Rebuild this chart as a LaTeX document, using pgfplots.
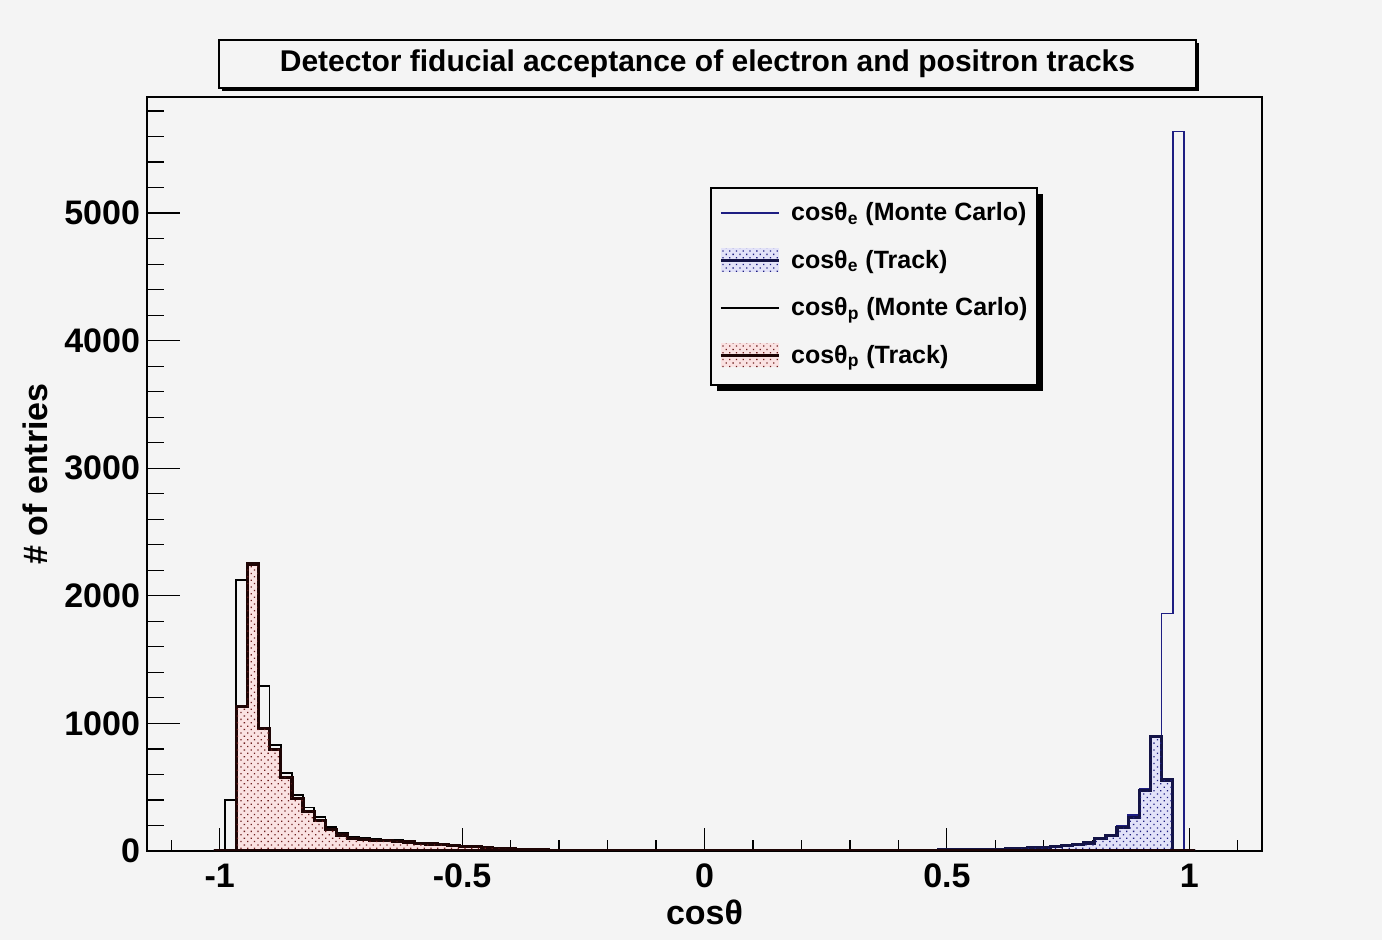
\documentclass[border=0pt]{standalone}
\usepackage{pgfplots}
\pgfplotsset{compat=1.18}
\usepackage{pgfplotstable}
\usepackage{fontspec}
\setmainfont{Liberation Sans}
\usetikzlibrary{patterns.meta}

\definecolor{bgc}{RGB}{244,244,244}
\definecolor{enavy}{RGB}{30,30,130}
\definecolor{eline}{RGB}{20,20,70}
\definecolor{efill}{RGB}{226,226,248}
\definecolor{pfill}{RGB}{250,226,226}
\definecolor{pdot}{RGB}{110,30,30}
\definecolor{pline}{RGB}{30,5,5}

% bins of width 0.023, x = left edge of the bin
\pgfplotstableread{
x      mce  tre  mcp  trp
-1.012 0    0    0    0
-0.989 0    0    400  0
-0.966 0    0    2125 1130
-0.943 0    0    2258 2250
-0.920 0    0    1295 962
-0.897 0    0    830  798
-0.874 0    0    610  578
-0.851 0    0    440  413
-0.828 0    0    340  310
-0.805 0    0    265  240
-0.782 0    0    190  170
-0.759 0    0    140  125
-0.736 0    0    110  95
-0.713 0    0    100  88
-0.690 0    0    95   84
-0.667 0    0    90   80
-0.644 0    0    86   76
-0.621 0    0    80   70
-0.598 0    0    66   60
-0.575 0    0    60   55
-0.552 0    0    55   50
-0.529 0    0    44   40
-0.506 0    0    40   37
-0.483 0    0    38   34
-0.460 0    0    35   30
-0.437 0    0    22   20
-0.414 0    0    20   17
-0.391 0    0    15   12
-0.368 0    0    12   10
-0.345 0    0    10   8
-0.322 0    0    8    6
-0.299 0    0    7    5
-0.276 0    0    6    4
-0.253 0    0    6    4
-0.230 0    0    5    3
-0.207 0    0    4    3
-0.184 0    0    4    2
-0.161 0    0    3    2
-0.138 0    0    3    1
-0.115 0    0    2    1
-0.092 0    0    2    1
-0.069 0    0    1    0
-0.046 0    0    1    0
-0.023 0    0    1    0
0.000  0    0    0    0
0.023  0    0    0    0
0.046  0    0    0    0
0.069  0    0    0    0
0.092  0    0    0    0
0.115  1    0    0    0
0.138  2    1    0    0
0.161  2    1    0    0
0.184  2    1    0    0
0.207  3    2    0    0
0.230  3    2    0    0
0.253  3    2    0    0
0.276  4    3    0    0
0.299  4    3    0    0
0.322  5    3    0    0
0.345  5    4    0    0
0.368  6    4    0    0
0.391  6    5    0    0
0.414  7    5    0    0
0.437  8    6    0    0
0.460  8    6    0    0
0.483  9    7    0    0
0.506  10   8    0    0
0.529  11   9    0    0
0.552  12   10   0    0
0.575  14   12   0    0
0.598  16   14   0    0
0.621  20   17   0    0
0.644  24   21   0    0
0.667  28   25   0    0
0.690  33   30   0    0
0.713  40   36   0    0
0.736  48   42   0    0
0.759  55   50   0    0
0.782  70   62   0    0
0.805  105  95   0    0
0.828  130  120  0    0
0.851  200  186  0    0
0.874  280  265  0    0
0.897  490  472  0    0
0.920  905  895  0    0
0.943  1860 556  0    0
0.966  5640 0    0    0
0.989  0    0    0    0
1.012  0    0    0    0
}\cosdata

\begin{document}
\begin{tikzpicture}
\path[use as bounding box, fill=bgc] (-73.5pt,-44.5pt) rectangle (617.5pt,425.5pt);

% legend frame with its shadow
\fill[black] (285pt,230pt) rectangle (448pt,328.5pt);
\filldraw[fill=bgc, draw=black, line width=0.6pt] (282pt,233pt) rectangle (445pt,331.5pt);

\begin{axis}[
    scale only axis,
    width=557.5pt, height=377pt,
    xmin=-1.15, xmax=1.15,
    ymin=0, ymax=5910,
    axis line style={line width=0.7pt},
    tick align=inside,
    xtick pos=bottom, ytick pos=left,
    xtick={-1,-0.5,0,0.5,1},
    xticklabels={-1,-0.5,0,0.5,1},
    minor xtick={-1.1,-0.9,-0.8,-0.7,-0.6,-0.4,-0.3,-0.2,-0.1,0.1,0.2,0.3,0.4,0.6,0.7,0.8,0.9,1.1},
    ytick={0,1000,...,5000},
    yticklabels={0,1000,2000,3000,4000,5000},
    minor ytick={200,400,...,5800},
    tick style={line width=0.6pt, black},
    major x tick style={/pgfplots/major tick length=11.5pt},
    minor x tick style={/pgfplots/minor tick length=5.5pt},
    major y tick style={/pgfplots/major tick length=16.5pt},
    minor y tick style={/pgfplots/minor tick length=8.5pt},
    ticklabel style={font=\fontsize{17}{17}\selectfont\bfseries},
    xticklabel style={yshift=-3pt},
    xlabel={cosθ},
    ylabel={\# of entries},
    every axis x label/.style={at={(axis description cs:0.5,-0.081)}, anchor=center,
        font=\fontsize{17}{17}\selectfont\bfseries},
    every axis y label/.style={at={(axis description cs:-0.1004,0.5)}, rotate=90, anchor=center,
        font=\fontsize{17}{17}\selectfont\bfseries},
    legend style={at={(0.5058,0.8793)}, anchor=north west, draw=none, fill=none,
        font=\fontsize{12.5}{15}\selectfont\bfseries,
        row sep=9.2pt, column sep=3.5pt, inner xsep=4pt, inner ysep=5pt},
    legend cell align=left,
]
\addplot[const plot, draw=enavy, line width=0.8pt,
    legend image code/.code={\draw[enavy, line width=0.8pt] (0pt,0pt) -- (29pt,0pt);}]
    table[x=x, y=mce] {\cosdata};
\addlegendentry{cosθ\textsubscript{e} (Monte Carlo)}

\addplot[const plot, draw=eline, line width=1.6pt, fill=efill,
    postaction={draw=none, pattern={Dots[angle=45, distance=2.4pt, radius=0.45pt]}, pattern color=enavy},
    legend image code/.code={
        \path[draw=none, fill=efill] (0pt,-6pt) rectangle (29pt,6pt);
        \draw[eline, line width=1.4pt] (0pt,0pt) -- (29pt,0pt);}]
    table[x=x, y=tre] {\cosdata} \closedcycle;
\addlegendentry{cosθ\textsubscript{e} (Track)}

\addplot[const plot, draw=black, line width=0.8pt,
    legend image code/.code={\draw[black, line width=0.8pt] (0pt,0pt) -- (29pt,0pt);}]
    table[x=x, y=mcp] {\cosdata};
\addlegendentry{cosθ\textsubscript{p} (Monte Carlo)}

\addplot[const plot, draw=pline, line width=1.6pt, fill=pfill,
    postaction={draw=none, pattern={Dots[angle=45, distance=2.4pt, radius=0.45pt]}, pattern color=pdot},
    legend image code/.code={
        \path[draw=none, fill=pfill] (0pt,-6pt) rectangle (29pt,6pt);
        \draw[pline, line width=1.4pt] (0pt,0pt) -- (29pt,0pt);}]
    table[x=x, y=trp] {\cosdata} \closedcycle;
\addlegendentry{cosθ\textsubscript{p} (Track)}
\end{axis}

% title box
\fill[black] (37.5pt,380pt) rectangle (526pt,404pt);
\filldraw[fill=bgc, draw=black, line width=0.6pt] (36pt,381.5pt) rectangle (524.5pt,405.5pt);
\node[font=\fontsize{15}{15}\selectfont\bfseries] at (280.25pt,393.5pt)
    {Detector fiducial acceptance of electron and positron tracks};
\end{tikzpicture}
\end{document}
